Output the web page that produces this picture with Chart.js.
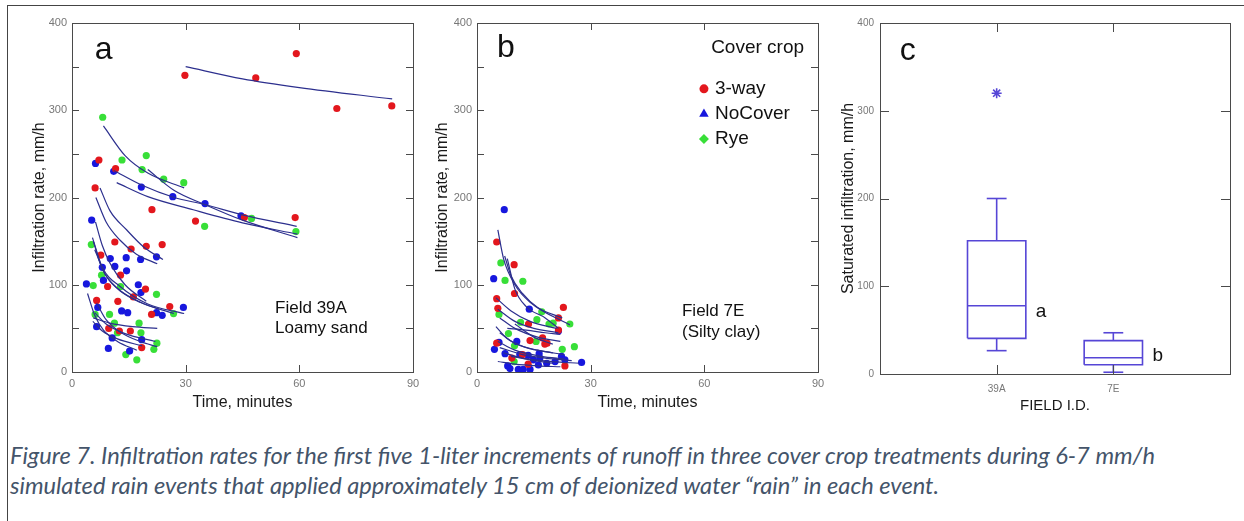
<!DOCTYPE html>
<html>
<head>
<meta charset="utf-8">
<script src="https://cdn.jsdelivr.net/npm/chart.js@4.4.1/dist/chart.umd.min.js"></script>
<style>
  body { margin: 0; background: #fff; width: 1244px; height: 521px; overflow: hidden; position: relative; }
  .frame { position: absolute; left: 7px; top: 5px; width: 1300px; height: 600px; border-left: 1px solid #444; border-top: 1px solid #444; }
  .panel { position: absolute; top: 0; }
  .cap { position: absolute; left: 10px; font-family: Lato, "Open Sans", sans-serif; font-style: italic; color: #44546a; white-space: nowrap; line-height: 30px; }
</style>
</head>
<body>
<div class="frame"></div>
<canvas id="panelA" class="panel" width="425" height="415" style="left:0px"></canvas>
<canvas id="panelB" class="panel" width="410" height="415" style="left:425px"></canvas>
<canvas id="panelC" class="panel" width="409" height="415" style="left:835px"></canvas>
<div class="cap" id="cap1" style="top:440px"><span>Figure 7. Infiltration rates for the first five 1-liter increments of runoff in three cover crop treatments during 6-7 mm/h</span></div>
<div class="cap" id="cap2" style="top:470px"><span>simulated rain events that applied approximately 15 cm of deionized water “rain” in each event.</span></div>
<script>
// ---- data ----
const timeTicks = [0, 30, 60, 90];
const rateTicks = [0, 100, 200, 300, 400];

// panel a, field 39A  [minutes, mm/h]
const a3way = [[29.8,340],[48.5,337],[59.2,365],[69.9,302],[84.4,305],
  [7.1,243],[6.1,211],[11.5,233],[21.1,186],[32.6,173],[45.5,177],[58.9,177],
  [11.3,149],[15.6,141],[19.6,144],[23.8,146],[7.6,134],[12.8,111],[9.4,98],[19.4,95],
  [6.5,82],[12.1,81],[16.2,86],[21.0,66],[25.8,75],[9.7,50],[12.5,47],[15.4,47],[18.4,28]];
const aNoCover = [[6.2,239],[11.0,230],[18.3,212],[26.6,201],[35.1,193],[44.6,179],
  [5.2,174],[10.1,130],[14.3,131],[18.1,129],[22.3,132],[8.0,120],[11.3,121],[14.4,116],
  [8.3,105],[3.8,101],[17.5,100],[18.2,91],[6.8,74],[13.1,70],[14.7,68],[22.3,68],[23.8,65],
  [29.4,74],[6.5,52],[10.6,39],[18.4,37],[9.6,27],[15.2,24]];
const aRye = [[8.1,292],[13.2,243],[19.6,248],[18.5,232],[24.2,221],[29.5,217],
  [47.4,176],[35.0,167],[59.1,161],[5.1,146],[7.8,111],[12.8,98],[5.6,99],[22.3,89],[26.8,67],
  [6.1,66],[9.9,66],[17.7,56],[11.2,56],[12.0,45],[18.2,45],[22.4,33],[21.6,26],[14.2,20],[17.1,14]];
const aFits = [
  [[30,350],[45,336],[60,326],[84.5,313]],
  [[8.3,282],[14,248],[20,228],[29.6,211]],
  [[11,231],[18.5,214],[27,200],[35,192],[45,180],[59.3,167]],
  [[11.8,217],[20,201],[32,186],[45,171],[59.5,158]],
  [[20,232],[27,208],[35,192],[45,174],[59.5,154]],
  [[7.4,211],[10,185],[14.4,163],[19,143],[24,129]],
  [[6.3,200],[9,172],[12.7,151],[17,135],[22.5,124]],
  [[6.2,172],[8,145],[10,125],[14,100],[19.6,81]],
  [[5.4,154],[8,120],[12.7,98],[20,78],[29.6,67]],
  [[5.6,150],[8,118],[12,96],[18,80],[26.9,67]],
  [[6,140],[9,110],[13,92],[18,80],[23,72]],
  [[4.1,90],[6,65],[8.3,48],[12,35],[17.1,25]],
  [[6.5,79],[9,60],[13,45],[18,35],[22.5,29]],
  [[5.6,62],[10,56],[16,52],[22.5,50]],
  [[6,68],[9,55],[14,44],[22,35]],
  [[5.5,58],[8,47],[12,38],[18.5,30]]
];

// panel b, field 7E
const b3way = [[5.2,149],[9.8,123],[9.9,90],[5.2,84],[5.5,73],[22.8,74],[21.5,62],[21.5,48],
  [13.6,55],[14,36],[17.3,39],[17.9,32],[5.2,33],[9.2,16],[23.2,7],[13.5,9],[18.5,33],[12,20]];
const bNoCover = [[7.2,186],[4.4,107],[13.8,72],[5.8,34],[4.6,26],[7.4,21],[10.5,35],[8.1,7],
  [8.7,4],[10.9,3],[12.2,3],[14,3],[11.3,20],[13.5,19],[16.6,16],[16.2,8],[18.4,10],[20.6,12],
  [22.3,18],[23.2,14],[21.5,47],[27.6,11],[14.9,14],[16.4,21]];
const bRye = [[6.3,125],[7.4,105],[12.1,104],[5.8,66],[17.1,69],[15.8,60],[20.1,56],[24.5,55],
  [8.3,44],[9.9,30],[22.5,26],[25.7,29],[9.8,12],[15.6,35],[11.5,57],[19,55]];
const bFits = [
  [[5.5,163],[7,130],[10,100],[14,80],[24.5,54]],
  [[7.3,133],[9,110],[12,90],[16,74],[22.5,62]],
  [[8,130],[10,95],[13,75],[18,62],[21.5,50]],
  [[5,85],[9,70],[14,58],[21,50]],
  [[5.5,72],[10,58],[15,50],[21.5,45]],
  [[6,62],[10,50],[16,40],[22,35]],
  [[5,52],[8,38],[13,28],[20,22]],
  [[6,45],[10,33],[16,25],[23,20]],
  [[5.5,35],[10,25],[17,18],[23,15]],
  [[6,28],[12,20],[18,16],[25,13]],
  [[7,22],[12,16],[20,12],[27,10]],
  [[5.5,12],[10,9],[16,7],[22,6]],
  [[8,50],[13,48],[18,45],[22,43]],
  [[9,18],[14,14],[20,10]],
  [[10,55],[15,40],[20,32]]
];

// panel c, saturated infiltration box plot
const fields = ['39A', '7E'];
const satLow  = [26.6, 2];
const satQ1   = [40.6, 10.6];
const satMed  = [77.8, 18.6];
const satQ3   = [151.8, 38];
const satHigh = [200, 47];
const satOutliers = [[0, 320]];   // [field index, value]
const satLetters = ['a', 'b'];

const RED = '#e3171d', BLUE = '#1717de', GREEN = '#38df38', FIT = '#2c2f8e', BOX = '#5646d6';
const AXIS = '#4a4a4a';

const pts = arr => arr.map(p => ({ x: p[0], y: p[1] }));
const scatterSet = (arr, color) => ({ data: pts(arr), backgroundColor: color, borderColor: color, pointRadius: 3.6, borderWidth: 0, pointHoverRadius: 3.6 });
const fitSet = arr => ({ data: pts(arr), showLine: true, cubicInterpolationMode: 'monotone', borderColor: FIT, borderWidth: 1.2, pointRadius: 0, fill: false });
const noGrid = { display: false, drawTicks: false, tickLength: 0 };

// frame, inward ticks and in-plot texts
const deco = {
  id: 'deco',
  afterDraw(chart, args, opts) {
    const { ctx, chartArea: ca, scales: { x, y } } = chart;
    ctx.save();
    ctx.strokeStyle = AXIS;
    ctx.lineWidth = 1;
    ctx.strokeRect(Math.round(ca.left) + 0.5, Math.round(ca.top) + 0.5, Math.round(ca.width), Math.round(ca.height));
    const tl = opts.tickLen || 8;
    ctx.beginPath();
    y.ticks.forEach(t => {
      if (t.value <= y.min || t.value >= y.max) return;
      const py = Math.round(y.getPixelForValue(t.value)) + 0.5;
      ctx.moveTo(ca.left, py); ctx.lineTo(ca.left + tl, py);
      ctx.moveTo(ca.right, py); ctx.lineTo(ca.right - tl, py);
    });
    x.ticks.forEach(t => {
      if (t.value <= x.min || t.value >= x.max) return;
      const px = Math.round(x.getPixelForValue(t.value)) + 0.5;
      ctx.moveTo(px, ca.top); ctx.lineTo(px, ca.top + tl);
      ctx.moveTo(px, ca.bottom); ctx.lineTo(px, ca.bottom - tl);
    });
    ctx.stroke();
    ctx.fillStyle = '#111';
    ctx.textBaseline = 'middle';
    ctx.textAlign = 'left';
    (opts.texts || []).forEach(t => {
      ctx.font = t.size + 'px "Liberation Sans", Arial, sans-serif';
      ctx.fillText(t.text, x.getPixelForValue(t.x), y.getPixelForValue(t.y));
    });
    if (opts.legend) {
      const lg = opts.legend;
      ctx.font = '19px "Liberation Sans", Arial, sans-serif';
      ctx.fillText(lg.title, x.getPixelForValue(lg.x), y.getPixelForValue(lg.titleY));
      lg.items.forEach((it, i) => {
        const mx = x.getPixelForValue(lg.x - 1.9), my = y.getPixelForValue(lg.ys[i]);
        ctx.fillStyle = it.color;
        Chart.helpers.drawPoint(ctx, { pointStyle: it.style, radius: it.r, borderWidth: 0, rotation: 0 }, mx, my);
        ctx.fillStyle = '#111';
        ctx.fillText(it.label, x.getPixelForValue(lg.x + 1), my);
      });
    }
    ctx.restore();
  }
};

const tickFont = { family: '"Liberation Sans", Arial, sans-serif', size: 11 };
const titleFont = { family: '"Liberation Sans", Arial, sans-serif', size: 16 };

function scatterPanel(id, cfg) {
  return new Chart(document.getElementById(id), {
    type: 'scatter',
    data: { datasets: cfg.datasets },
    plugins: [deco],
    options: {
      responsive: false, animation: false, events: [],
      layout: { padding: { left: cfg.padL, right: cfg.padR, top: 23, bottom: 0 } },
      plugins: { legend: { display: false }, tooltip: { enabled: false }, deco: cfg.deco },
      scales: {
        x: {
          type: 'linear', min: 0, max: 90,
          afterBuildTicks: s => { s.ticks = timeTicks.map(v => ({ value: v })); },
          afterFit: s => { s.height = 43; },
          grid: noGrid, border: { display: false },
          ticks: { font: tickFont, color: '#777', padding: 5, maxRotation: 0, callback: v => v },
          title: { display: true, text: 'Time, minutes', font: titleFont, color: '#1a1a1a', padding: { top: 0, bottom: 3 } }
        },
        y: {
          type: 'linear', min: 0, max: 400,
          afterBuildTicks: s => { const t = []; for (let v = 0; v <= 400; v += 50) t.push({ value: v }); s.ticks = t; },
          afterFit: s => { s.width = cfg.yW; },
          grid: noGrid, border: { display: false },
          ticks: { font: tickFont, color: '#777', padding: 5, callback: v => rateTicks.includes(v) ? v : '' },
          title: { display: true, text: 'Infiltration rate, mm/h', font: titleFont, color: '#1a1a1a', padding: 0 }
        }
      }
    }
  });
}

scatterPanel('panelA', {
  padL: 30, padR: 12, yW: 42,
  datasets: [...aFits.map(fitSet), scatterSet(a3way, RED), scatterSet(aNoCover, BLUE), scatterSet(aRye, GREEN)],
  deco: { tickLen: 7, texts: [
    { text: 'a', x: 6.0, y: 369, size: 32 },
    { text: 'Field 39A', x: 53.6, y: 73.5, size: 17 },
    { text: 'Loamy sand', x: 53.6, y: 49.5, size: 17 }
  ] }
});

scatterPanel('panelB', {
  padL: 8, padR: 17, yW: 44,
  datasets: [...bFits.map(fitSet), scatterSet(b3way, RED), scatterSet(bNoCover, BLUE), scatterSet(bRye, GREEN)],
  deco: { tickLen: 7, texts: [
    { text: 'b', x: 5.3, y: 371, size: 32 },
    { text: 'Field 7E', x: 54.1, y: 69, size: 17 },
    { text: '(Silty clay)', x: 54.1, y: 46, size: 17 }
  ], legend: {
    title: 'Cover crop', x: 61.8, titleY: 371.5, ys: [324.5, 295.7, 267],
    items: [
      { label: '3-way', color: RED, style: 'circle', r: 4.5 },
      { label: 'NoCover', color: BLUE, style: 'triangle', r: 5.5 },
      { label: 'Rye', color: GREEN, style: 'rectRot', r: 5 }
    ]
  } }
});

// box plot pieces built from the summary arrays
const boxSets = [];
const seg = (pairs, extra) => Object.assign({ data: pairs.map(p => ({ x: p[0], y: p[1] })), showLine: true, borderColor: BOX, borderWidth: 1.6, pointRadius: 0, fill: false, tension: 0 }, extra || {});
fields.forEach((f, i) => {
  const c = i + 1, h = 0.25, cap = 0.085;
  boxSets.push(seg([[c - h, satQ1[i]], [c + h, satQ1[i]], [c + h, satQ3[i]], [c - h, satQ3[i]], [c - h, satQ1[i]]]));
  boxSets.push(seg([[c - h, satMed[i]], [c + h, satMed[i]]]));
  boxSets.push(seg([[c, satQ3[i]], [c, satHigh[i]]]));
  boxSets.push(seg([[c - cap, satHigh[i]], [c + cap, satHigh[i]]]));
  boxSets.push(seg([[c, satQ1[i]], [c, satLow[i]]]));
  boxSets.push(seg([[c - cap, satLow[i]], [c + cap, satLow[i]]]));
});
boxSets.push({ data: satOutliers.map(o => ({ x: o[0] + 1, y: o[1] })), pointStyle: 'star', pointRadius: 5, borderColor: BOX, borderWidth: 1.6, backgroundColor: BOX });

new Chart(document.getElementById('panelC'), {
  type: 'scatter',
  data: { datasets: boxSets },
  plugins: [deco],
  options: {
    responsive: false, animation: false, events: [],
    layout: { padding: { left: 4, right: 14, top: 23, bottom: 0 } },
    plugins: { legend: { display: false }, tooltip: { enabled: false }, deco: {
      tickLen: 9,
      texts: [
        { text: 'c', x: 0.17, y: 368, size: 32 },
        ...satLetters.map((l, i) => ({ text: l, x: i + 1.335, y: (satMed[i] + satQ1[i]) / 2 + (i === 0 ? 12 : 6), size: 19 }))
      ]
    } },
    scales: {
      x: {
        type: 'linear', min: 0, max: 3,
        afterBuildTicks: s => { s.ticks = fields.map((f, i) => ({ value: i + 1 })); },
        afterFit: s => { s.height = 41; },
        grid: noGrid, border: { display: false },
        ticks: { font: { family: tickFont.family, size: 10 }, color: '#777', padding: 9, maxRotation: 0, callback: v => fields[v - 1] },
        title: { display: true, text: 'FIELD I.D.', font: { family: titleFont.family, size: 15 }, color: '#1a1a1a', padding: 0 }
      },
      y: {
        type: 'linear', min: 0, max: 400,
        afterBuildTicks: s => { s.ticks = rateTicks.map(v => ({ value: v })); },
        afterFit: s => { s.width = 41; },
        grid: noGrid, border: { display: false },
        ticks: { font: { family: tickFont.family, size: 10 }, color: '#777', padding: 6 },
        title: { display: true, text: 'Saturated infiltration, mm/h', font: titleFont, color: '#1a1a1a', padding: 0 }
      }
    }
  }
});

// size the caption so its first line spans the same width as the original
const c1 = document.getElementById('cap1'), c2 = document.getElementById('cap2');
c1.style.fontSize = c2.style.fontSize = '20px';
const w = c1.firstChild.getBoundingClientRect().width;
const fs = 20 * 1145 / w;
c1.style.fontSize = c2.style.fontSize = fs.toFixed(2) + 'px';
</script>
</body>
</html>
